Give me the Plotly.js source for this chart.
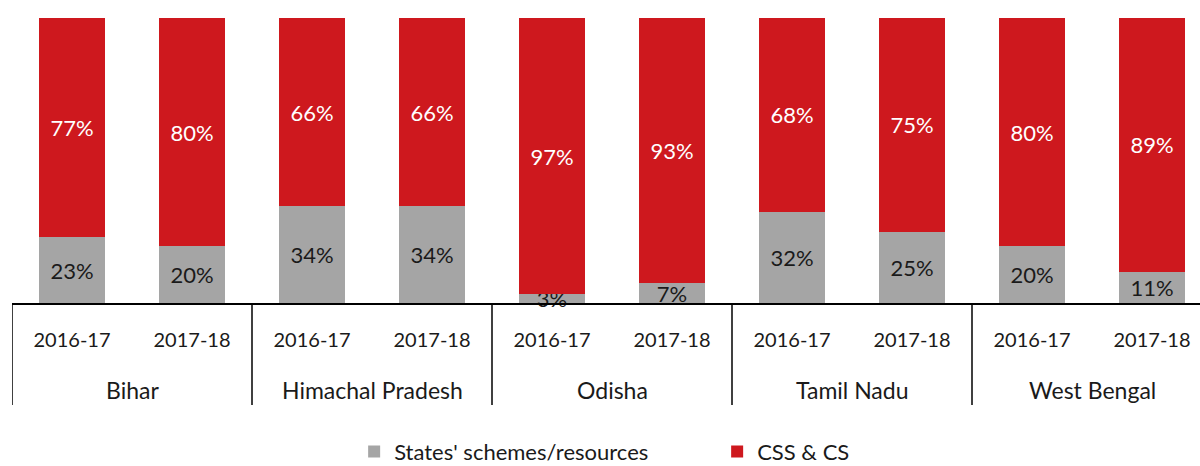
<!DOCTYPE html>
<html><head><meta charset="utf-8">
<script src="https://cdn.plot.ly/plotly-3.0.1.min.js"></script>
<style>html,body{margin:0;padding:0;background:#fff}#chart{width:1200px;height:466px}</style>
</head><body><div id="chart"></div>
<script>
const states = ["Bihar", "Himachal Pradesh", "Odisha", "Tamil Nadu", "West Bengal"];
const years = ["2016-17", "2017-18"];
const stateShare = [23, 20, 34, 34, 3, 7, 32, 25, 20, 11];
const cssShare = [77, 80, 66, 66, 97, 93, 68, 75, 80, 89];

const FONT = "Lato, 'Open Sans', sans-serif";
const xs = [], yearLabels = [];
states.forEach((s, i) => years.forEach((y, j) => { xs.push(i * 2 + j); yearLabels.push(y); }));

const traces = [
  {type: 'bar', name: "States' schemes/resources", x: xs, y: stateShare,
   marker: {color: '#A5A5A5'}, text: stateShare.map(v => v + '%'), textposition: 'inside',
   insidetextanchor: 'middle', textfont: {color: '#1a1a1a', size: 22, family: FONT},
   hoverinfo: 'skip', cliponaxis: false},
  {type: 'bar', name: 'CSS & CS', x: xs, y: cssShare,
   marker: {color: '#CE181E'}, text: cssShare.map(v => v + '%'), textposition: 'inside',
   insidetextanchor: 'middle', textfont: {color: '#ffffff', size: 22, family: FONT},
   hoverinfo: 'skip'}
];

const shapes = [];
for (let i = 0; i < states.length; i++) {
  shapes.push({type: 'line', xref: 'x', yref: 'paper', x0: i * 2 - 0.5, x1: i * 2 - 0.5, y0: 0, y1: -0.358,
    line: {color: '#000', width: 1.5}});
}
const annotations = states.map((s, i) => ({
  text: s, xref: 'x', yref: 'paper', x: i * 2 + 0.5, y: -0.305, yanchor: 'middle',
  showarrow: false, font: {size: 23, family: FONT, color: '#1a1a1a'}
}));

const layout = {
  width: 1200, height: 466, barmode: 'stack', bargap: 0.45,
  margin: {l: 12, r: 0, t: 18, b: 163, autoexpand: false},
  paper_bgcolor: '#fff', plot_bgcolor: '#fff',
  font: {family: FONT, size: 20, color: '#1a1a1a'},
  uniformtext: {mode: 'show', minsize: 22},
  xaxis: {range: [-0.5, 9.4], tickvals: xs, ticktext: yearLabels, showgrid: false, zeroline: false,
    automargin: false,
    showline: true, linecolor: '#000', linewidth: 1.5, ticks: '', ticklabelstandoff: 18,
    tickfont: {size: 20, family: FONT, color: '#1a1a1a'}},
  yaxis: {range: [0, 100], visible: false, showgrid: false, zeroline: false, automargin: false},
  showlegend: true,
  legend: {orientation: 'h', xref: 'paper', yref: 'paper', x: 0.288, y: -0.522, xanchor: 'left', yanchor: 'middle',
    entrywidth: 318, entrywidthmode: 'pixels', traceorder: 'normal', tracegroupgap: 0,
    font: {size: 22, family: FONT, color: '#1a1a1a'}},
  shapes: shapes, annotations: annotations
};
Plotly.newPlot('chart', traces, layout, {staticPlot: true, displayModeBar: false});
</script></body></html>
